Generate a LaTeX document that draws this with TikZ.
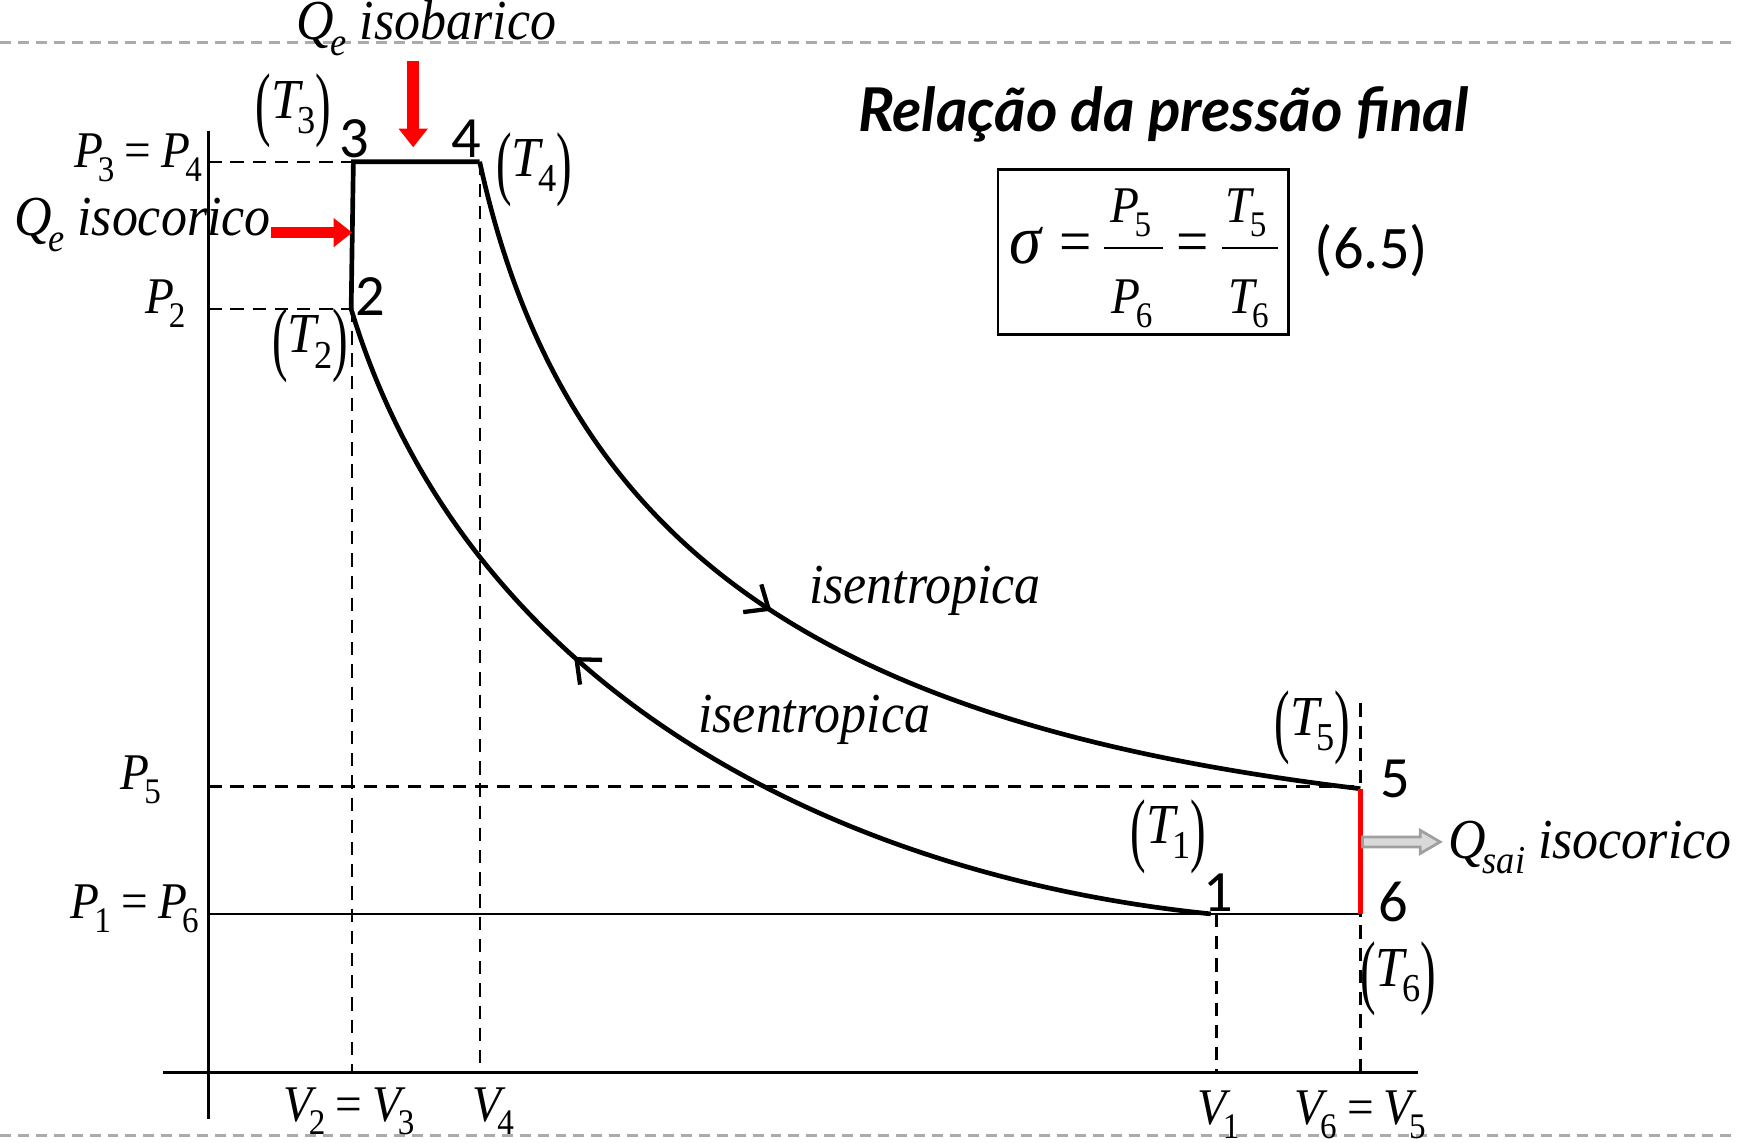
\documentclass[tikz,border=0pt]{standalone}
\usepackage{fontspec}
\setmainfont[FakeStretch=0.92]{Liberation Serif}
\newfontfamily\numfont{Carlito}
\newfontfamily\titlefont{Lato}
\usetikzlibrary{arrows.meta,decorations.markings}
\newcommand\sbs[1]{\raisebox{-0.27em}{\scalebox{0.7}{#1}}}
\newcommand\vv[3][-0.1em]{\textit{#2}\kern#1\sbs{#3}}
\newcommand\bpar[1]{\raisebox{-0.22em}{\scalebox{0.9}[1.45]{(}}#1\raisebox{-0.22em}{\scalebox{0.9}[1.45]{)}}}
\newcommand\eqs{\kern0.2em=\kern0.2em}
\begin{document}
\begin{tikzpicture}[x=0.01cm,y=-0.01cm,
  lbl/.style={font=\fontsize{14.5}{17}\selectfont, inner sep=0pt},
  var/.style={font=\fontsize{13.2}{15}\selectfont, inner sep=0pt},
  num/.style={font=\numfont\fontsize{15}{17}\selectfont, inner sep=0pt},
  guide/.style={line width=0.6pt, dash pattern=on 3.4pt off 2.3pt},
  axisline/.style={line width=0.65pt},
  cyc/.style={line width=1.2pt},
  sepline/.style={line width=0.8pt, draw=black!33, dash pattern=on 2.8pt off 1.8pt},
  heat/.style={draw=red, line width=3pt, -{Triangle[length=4.8pt,width=7.2pt]}},
  tipmark/.style={postaction={decorate}, decoration={markings, mark=at position #1 with {\arrow[line width=1.1pt]{Straight Barb[length=5pt,width=8.5pt]}}}}
]
\useasboundingbox (0,0) rectangle (1568,1031);
% separators
\draw[sepline] (0,38) -- (1568,38);
\draw[sepline] (0,1025) -- (1568,1025);
% state points
\coordinate (n1) at (1093,825);
\coordinate (n2) at (317,279);
\coordinate (n3) at (319,146);
\coordinate (n4) at (433,146);
\coordinate (n5) at (1228,712);
\coordinate (n6) at (1228,825);
% axes
\coordinate (yt) at (188,118);
\coordinate (yb) at (188,1010);
\coordinate (xl) at (147,968);
\coordinate (xr) at (1280,968);
\draw[axisline] (yt) -- (yb);
\draw[axisline] (xl) -- (xr);
% guides
\coordinate (a34) at (188,146);
\coordinate (a2) at (188,279);
\coordinate (a5) at (188,710);
\coordinate (a16) at (188,825);
\draw[guide] (a34) -- (n3);
\draw[guide] (a2) -- (n2);
\draw[guide] (a5) -- (n5 |- a5);
\draw[axisline] (a16) -- (n6);
\coordinate (g23) at (318,279);
\coordinate (g1) at (1098,825);
\coordinate (g56) at (1228,635);
\draw[guide] (g23) -- (g23 |- xl);
\draw[guide] (n4) -- (n4 |- xl);
\draw[guide] (g1) -- (g1 |- xl);
\draw[guide] (g56) -- (g56 |- xl);
% cycle
\draw[cyc] (n2) -- (n3) -- (n4);
\draw[cyc, tipmark=0.47] (n4) .. controls (510,500) and (750,655) .. (n5);
\draw[cyc, tipmark=0.625] (n1) .. controls (750,790) and (420,620) .. (n2);
\draw[red, line width=1.2pt] (n5) -- (n6);
% heat arrows
\coordinate (qa) at (373,55);
\coordinate (qb) at (373,133);
\draw[heat] (qa) -- (qb);
\coordinate (qc) at (245,210);
\coordinate (qd) at (318,210);
\draw[heat] (qc) -- (qd);
\coordinate (qs) at (1230,760);
\filldraw[fill=gray!30, draw=gray!75, line width=0.7pt]
  (qs) ++(0,-4.5) -- ++(52,0) -- ++(0,-6) -- ++(18,10.5) -- ++(-18,10.5) -- ++(0,-6) -- ++(-52,0) -- cycle;
% labels
\node[lbl, anchor=base] (lqiso) at (385,36) {\vv[-0.06em]{Q}{\textit{e}} \textit{isobarico}};
\node[lbl, anchor=base west] (lqisoc) at (12,213) {\vv[-0.06em]{Q}{\textit{e}} \textit{isocorico}};
\node[lbl, anchor=base west] (lqsai) at (1307,775) {\vv[-0.06em]{Q}{\textit{sai}} \textit{isocorico}};
\node[lbl] (lt3) at (265,100) {\bpar{\vv{T}{3}}};
\node[lbl] (lt4) at (482,153) {\bpar{\vv{T}{4}}};
\node[lbl] (lt2) at (280,312) {\bpar{\vv{T}{2}}};
\node[lbl] (lt5) at (1185,657) {\bpar{\vv{T}{5}}};
\node[lbl] (lt1) at (1055,755) {\bpar{\vv{T}{1}}};
\node[lbl] (lt6) at (1262,884) {\bpar{\vv{T}{6}}};
\node[num] (l3) at (320,125) {3};
\node[num] (l4) at (421,125) {4};
\node[num] (l2) at (334,268) {2};
\node[num] (l5) at (1260,703) {5};
\node[num] (l1) at (1100,806) {1};
\node[num] (l6) at (1258,814) {6};
\node[var, anchor=base east] (lp34) at (183,151) {\vv{P}{3}\eqs\vv{P}{4}};
\node[var, anchor=base east] (lp2) at (168,283) {\vv{P}{2}};
\node[var, anchor=base east] (lp5) at (146,713) {\vv{P}{5}};
\node[var, anchor=base east] (lp16) at (180,829) {\vv{P}{1}\eqs\vv{P}{6}};
\node[var, anchor=base] (lv23) at (315,1012) {\vv[-0.16em]{V}{2}\eqs\vv[-0.16em]{V}{3}};
\node[var, anchor=base] (lv4) at (445,1012) {\vv[-0.16em]{V}{4}};
\node[var, anchor=base] (lv1) at (1100,1015) {\vv[-0.16em]{V}{1}};
\node[var, anchor=base] (lv65) at (1228,1015) {\vv[-0.16em]{V}{6}\eqs\vv[-0.16em]{V}{5}};
\node[lbl] (is1) at (835,533) {\textit{isentropica}};
\node[lbl] (is2) at (735,650) {\textit{isentropica}};
\node[inner sep=0pt, font=\titlefont\bfseries\itshape\fontsize{15.5}{18}\selectfont] (title) at (1050,103) {Relação da pressão final};
% boxed relation
\node[draw, line width=0.6pt, minimum width=2.62cm, minimum height=1.49cm, inner sep=0pt] (box) at (1032,227.5) {};
\node[inner sep=0pt, font=\fontsize{18}{20}\selectfont, anchor=base] (sig) at (927,238) {\textit{σ}};
\node[inner sep=0pt, font=\fontsize{16}{18}\selectfont, anchor=base] (eq1) at (971,237) {=};
\node[var, anchor=base] (num1) at (1021,201) {\vv{P}{5}};
\node[var, anchor=base] (den1) at (1022,283) {\vv{P}{6}};
\node[inner sep=0pt, font=\fontsize{16}{18}\selectfont, anchor=base] (eq2) at (1077,237) {=};
\node[var, anchor=base] (num2) at (1125,201) {\vv{T}{5}};
\node[var, anchor=base] (den2) at (1127,283) {\vv{T}{6}};
\coordinate (b1l) at (997,224);
\coordinate (b1r) at (1050,224);
\coordinate (b2l) at (1103,224);
\coordinate (b2r) at (1154,224);
\draw[line width=0.6pt] (b1l) -- (b1r);
\draw[line width=0.6pt] (b2l) -- (b2r);
\node[inner sep=0pt, font=\numfont\fontsize{15.5}{18}\selectfont] (eqn) at (1238,226) {(6.5)};
\end{tikzpicture}
\end{document}
